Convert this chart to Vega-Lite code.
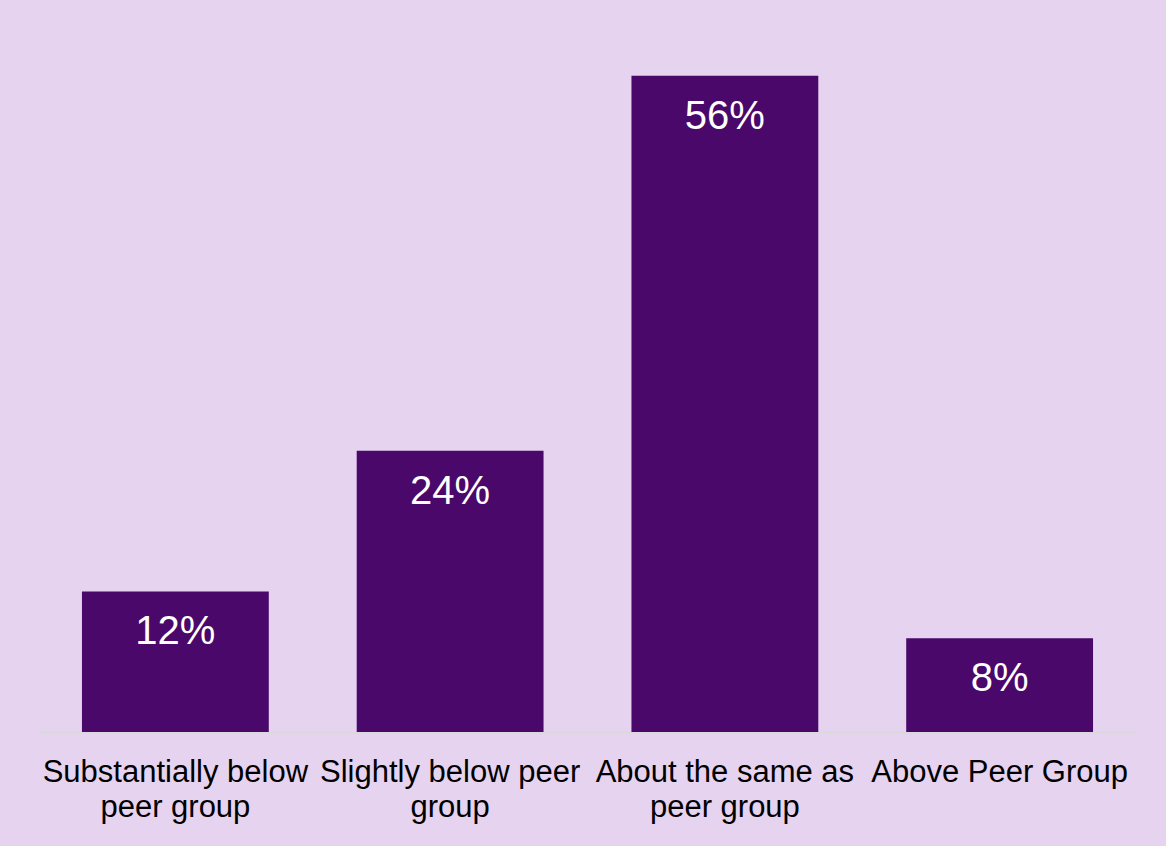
{
  "$schema": "https://vega.github.io/schema/vega-lite/v6.json",
  "autosize": {"type": "none"},
  "padding": {"left": 38, "top": 29, "right": 29, "bottom": 114},
  "width": 1099,
  "height": 703,
  "background": "#E6D3F0",
  "config": {
    "view": {"stroke": null},
    "font": "Liberation Sans"
  },
  "data": {
    "values": [
      {"category": "Substantially below|peer group", "value": 0.12},
      {"category": "Slightly below peer|group", "value": 0.24},
      {"category": "About the same as|peer group", "value": 0.56},
      {"category": "Above Peer Group", "value": 0.08}
    ]
  },
  "encoding": {
    "x": {
      "field": "category",
      "type": "nominal",
      "sort": null,
      "scale": {"paddingInner": 0.32, "paddingOuter": 0.16},
      "axis": {
        "title": null,
        "labelAngle": 0,
        "labelExpr": "split(datum.label, '|')",
        "labelFont": "Liberation Sans",
        "labelFontSize": 31,
        "labelColor": "#000000",
        "labelLineHeight": 35,
        "labelPadding": 25,
        "ticks": false,
        "tickSize": 0,
        "domainColor": "#D9D9D9",
        "domainWidth": 2,
        "grid": false,
        "labelLimit": 400
      }
    },
    "y": {
      "field": "value",
      "type": "quantitative",
      "scale": {"domain": [0, 0.6], "nice": false},
      "axis": null
    }
  },
  "layer": [
    {"mark": {"type": "bar", "color": "#4A086A"}},
    {
      "mark": {
        "type": "text",
        "color": "#FFFFFF",
        "fontSize": 40,
        "font": "Liberation Sans",
        "baseline": "top",
        "dy": 21
      },
      "encoding": {
        "text": {"field": "value", "type": "quantitative", "format": ".0%"}
      }
    }
  ]
}
